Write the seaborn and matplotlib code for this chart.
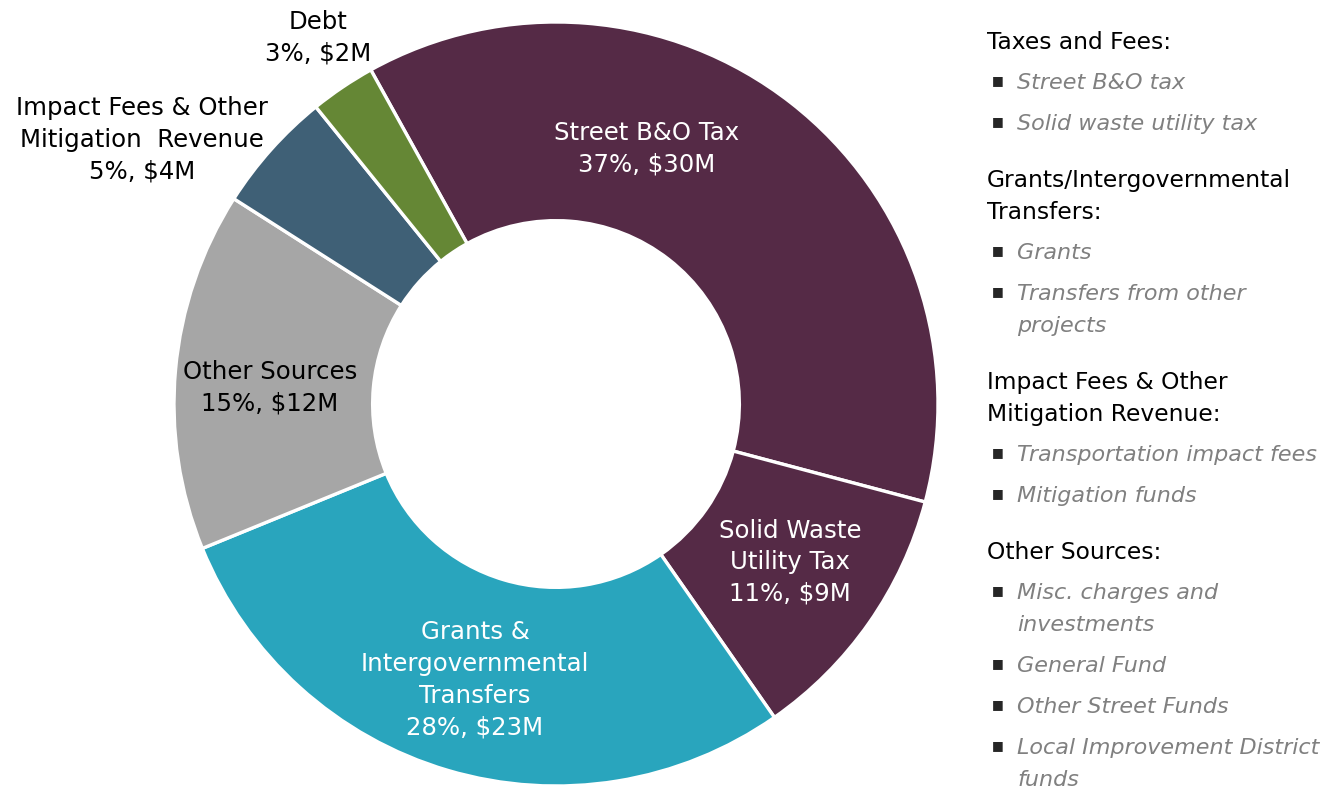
import matplotlib
matplotlib.use("Agg")
import matplotlib.pyplot as plt
import seaborn as sns

# Funding sources ($M), clockwise from the top
categories = ["Street B&O Tax", "Solid Waste Utility Tax", "Grants & Intergovernmental Transfers",
              "Other Sources", "Impact Fees & Other Mitigation Revenue", "Debt"]
amounts = [29.6, 8.9, 22.7, 12.1, 4.1, 2.2]
slice_labels = ["Street B&O Tax\n37%, $30M",
                "Solid Waste\nUtility Tax\n11%, $9M",
                "Grants &\nIntergovernmental\nTransfers\n28%, $23M",
                "Other Sources\n15%, $12M",
                "Impact Fees & Other\nMitigation  Revenue\n5%, $4M",
                "Debt\n3%, $2M"]
slice_colors = ["#552A46", "#552A46", "#29A5BD", "#A6A6A6", "#3F6076", "#658735"]
label_colors = ["white", "white", "white", "black", "black", "black"]
# label centres in pie units (radius = 1)
label_pos = [(0.238, 0.668), (0.613, -0.414), (-0.212, -0.722),
             (-0.749, 0.042), (-1.084, 0.691), (-0.623, 0.958)]

# right-hand legend: group header and its items
legend_groups = [
    ("Taxes and Fees:", ["Street B&O tax", "Solid waste utility tax"]),
    ("Grants/Intergovernmental\nTransfers:", ["Grants", "Transfers from other\nprojects"]),
    ("Impact Fees & Other\nMitigation Revenue:", ["Transportation impact fees", "Mitigation funds"]),
    ("Other Sources:", ["Misc. charges and\ninvestments", "General Fund", "Other Street Funds",
                        "Local Improvement District\nfunds"]),
]

sns.set_theme(style="white")
plt.rcParams['font.family'] = ['DejaVu Sans']

W, H = 1326, 786
fig = plt.figure(figsize=(W / 100, H / 100), dpi=100)

# pie centre (556, 404) px, radius 382 px
cx, cy, r = 556, 404, 382
ax = fig.add_axes([(cx - r) / W, (H - cy - r) / H, 2 * r / W, 2 * r / H])
wedges, _ = ax.pie(amounts, colors=slice_colors, startangle=119, counterclock=False,
                   radius=1, wedgeprops=dict(width=0.52, edgecolor="white", linewidth=2.4))
ax.set_xlim(-1, 1)
ax.set_ylim(-1, 1)
ax.set_aspect("equal")
ax.axis("off")

for txt, (x, y), c in zip(slice_labels, label_pos, label_colors):
    ax.text(x, y, txt, ha="center", va="center", color=c, fontsize=17.6,
            linespacing=1.4, clip_on=False)

# legend text, laid out line by line in pixels
def put(x, y, s, **kw):
    fig.text(x / W, 1 - y / H, s, va="center_baseline", **kw)

y = 40
for gi, (header, items) in enumerate(legend_groups):
    if gi > 0:
        y += 56
    for k, line in enumerate(header.split("\n")):
        if k > 0:
            y += 32
        put(987, y, line, fontsize=16.8, color="black")
    for item in items:
        y += 41
        put(998, y - 2, "\u25A0", fontsize=9, color="#262626", ha="center")
        for k, line in enumerate(item.split("\n")):
            if k > 0:
                y += 32
            put(1017, y, line, fontsize=16, color="#808080", style="italic")

fig.savefig("out.png", dpi=100)
